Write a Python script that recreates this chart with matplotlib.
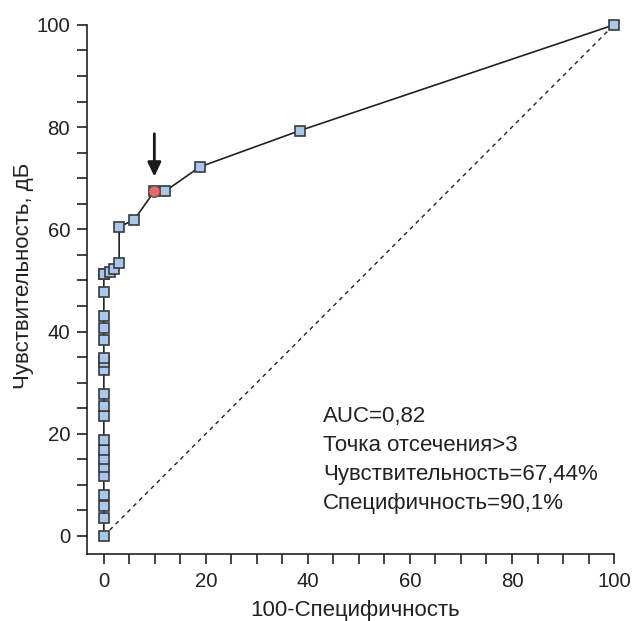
import matplotlib
matplotlib.use("Agg")
import matplotlib.pyplot as plt
from matplotlib.ticker import MultipleLocator

plt.rcParams['font.family'] = ['Liberation Sans', 'DejaVu Sans']

# ROC curve points: 100-specificity (x) and sensitivity (y)
fpr = [0, 0, 0, 0, 0, 0, 0, 0, 0, 0, 0, 0, 0, 0, 0, 0, 0, 0, 0, 0, 0,
       1.2, 2.0, 3.0, 3.0, 5.9, 9.9, 12.0, 18.8, 38.4, 100]
tpr = [0, 3.6, 5.8, 8.0, 11.8, 13.5, 15.0, 16.8, 18.7, 23.4, 25.5, 27.8,
       32.5, 34.1, 34.8, 38.4, 40.7, 43.0, 47.7, 51.2, 51.2,
       51.6, 52.3, 53.5, 60.5, 61.8, 67.44, 67.44, 72.2, 79.3, 100]

cutoff_x = 9.9
cutoff_y = 67.44

diag_x = [0, 100]
diag_y = [0, 100]

xticks = [0, 20, 40, 60, 80, 100]
yticks = [0, 20, 40, 60, 80, 100]

annot_lines = ["AUC=0,82", "Точка отсечения>3",
               "Чувствительность=67,44%", "Специфичность=90,1%"]

fig = plt.figure(figsize=(6.34, 6.21), dpi=100)
ax = fig.add_axes([0.137, 0.108, 0.8315, 0.852])

ax.plot(diag_x, diag_y, linestyle=(0, (3, 3)), color='#222222', lw=1.0, zorder=1)
ax.plot(fpr, tpr, color='#222222', lw=1.2, zorder=2, clip_on=False,
        marker='s', markersize=7.8, markerfacecolor='#a9c7ea',
        markeredgecolor='#3a3a3a', markeredgewidth=1.2)
ax.plot([cutoff_x], [cutoff_y], marker='o', markersize=8.3, color='#ee6566',
        markeredgecolor='#555555', markeredgewidth=1.0, zorder=4, linestyle='none')

ax.annotate('', xy=(cutoff_x, 70.3), xytext=(cutoff_x, 78.7),
            arrowprops=dict(arrowstyle='-|>,head_length=0.85,head_width=0.4',
                            color='#1a1a1a', lw=2.0, shrinkA=0, shrinkB=0))

ax.set_xlim(-3.33, 100)
ax.set_ylim(-3.52, 100)
ax.set_xticks(xticks)
ax.set_yticks(yticks)
ax.xaxis.set_minor_locator(MultipleLocator(5))
ax.yaxis.set_minor_locator(MultipleLocator(5))
ax.tick_params(which='both', direction='out', length=7.5, width=1.2,
               color='#222222', labelsize=14.7, labelcolor='#222222')
ax.tick_params(axis='y', pad=4.5)
ax.tick_params(axis='x', pad=5.5)

for s in ['top', 'right']:
    ax.spines[s].set_visible(False)
for s in ['left', 'bottom']:
    ax.spines[s].set_linewidth(1.2)
    ax.spines[s].set_color('#222222')

ax.set_xlabel('100-Специфичность', fontsize=16, color='#222222')
ax.set_ylabel('Чувствительность, дБ', fontsize=16, color='#222222')
ax.xaxis.set_label_coords(0.508, -0.088)
ax.yaxis.set_label_coords(-0.10, 0.525)

for i, t in enumerate(annot_lines):
    ax.text(43.0, 22.37 - i * 5.675, t, fontsize=16, color='#222222',
            va='baseline', ha='left')

fig.savefig('out.png', dpi=100)
